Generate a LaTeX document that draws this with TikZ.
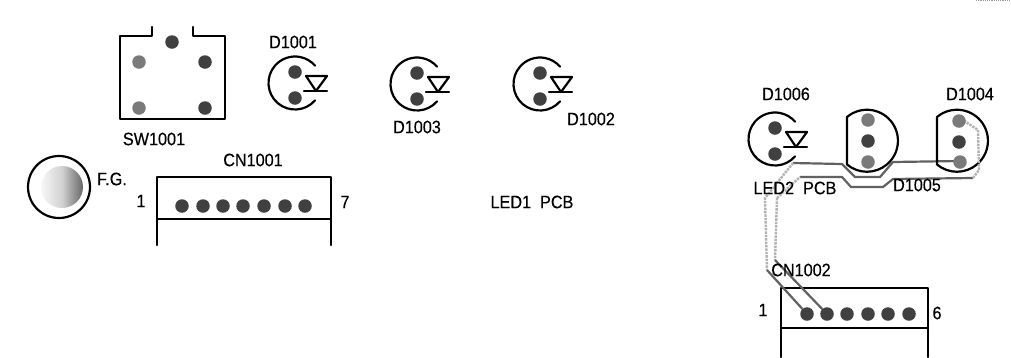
\documentclass[tikz,border=0pt]{standalone}
\usepackage{fontspec}
\setmainfont[FakeStretch=0.9,FakeBold=0.35]{Liberation Sans}
\tikzset{
  x=1pt,y=-1pt,
  outline/.style={draw=black,line width=2.2pt,line join=round,line cap=round},
  pad/.style={circle,inner sep=0pt,minimum size=13.5pt,fill=black!75},
  lightpad/.style={circle,inner sep=0pt,minimum size=13.5pt,fill=black!52},
  lbl/.style={inner sep=0pt,font=\fontsize{18}{18}\selectfont,text=black},
  darktrace/.style={draw=black!62,line width=2.2pt,line join=round},
  paletrace/.style={draw=black!30,line width=2.4pt,line join=round,densely dotted},
}
\newcommand{\ledsym}[3]{%
  \coordinate (#1) at (#2,#3);
  \draw[outline] ([shift={(41:26.5)}]#1) arc[start angle=41,end angle=319,radius=26.5];
  \node[pad] (#1a) at (#2,#3-11) {};
  \node[pad] (#1b) at (#2,#3+15) {};
  \draw[outline] (#2+11,#3-7) -- (#2+32,#3-7) -- (#2+21,#3+8) -- cycle;
  \draw[outline] (#2+9,#3+8) -- (#2+32,#3+8);
}
\begin{document}
\begin{tikzpicture}
\useasboundingbox (0,0) rectangle (1011,357);
\fill[white] (0,0) rectangle (1011,357);
% top-right scan remnant
\draw[black!40,line width=1.2pt,densely dotted] (976,0.6) -- (1011,0.6);

% traces (LED2 PCB)
\coordinate (ta) at (793,163);
\coordinate (tb) at (842,164);
\coordinate (tc) at (855,177);
\coordinate (td) at (880,177);
\coordinate (te) at (893,162);
\coordinate (tf) at (960,161);
\coordinate (ua) at (777,198);
\coordinate (ub) at (800,177);
\coordinate (uc) at (842,177);
\coordinate (ud) at (851,187);
\coordinate (ue) at (883,187);
\coordinate (uf) at (893,179);
\coordinate (ug) at (973,178);
\coordinate (uh) at (979,170);
\coordinate (ui) at (978,130);
\coordinate (uj) at (960,118);
\coordinate (va) at (767,270);
\coordinate (vb) at (775,260);
\coordinate (vc) at (765,198);
\draw[darktrace] (ta) -- (tb) -- (tc) -- (td) -- (te) -- (tf);
\draw[darktrace] (ub) -- (uc) -- (ud) -- (ue) -- (uf) -- (ug);
\draw[paletrace] (ua) -- (ub);
\draw[paletrace] (ta) -- (vc) -- (va);
\draw[paletrace] (ua) -- (vb);

% SW1001
\draw[outline] (152,27) -- (152,36) -- (120,36) -- (120,119) -- (225,119) -- (225,36) -- (193,36) -- (193,27);
\node[pad] (s1) at (172,42) {};
\node[lightpad] (s2) at (139,62) {};
\node[pad] (s3) at (205,62) {};
\node[lightpad] (s4) at (139,108) {};
\node[pad] (s5) at (205,108) {};
\node[lbl] (swl) at (154,139) {SW1001};

% LEDs
\ledsym{da}{295}{83}
\ledsym{db}{417}{84}
\ledsym{dc}{540}{84}
\ledsym{dd}{775}{139}
\node[lbl] (dal) at (293,42) {D1001};
\node[lbl] (dbl) at (417,127) {D1003};
\node[lbl] (dcl) at (591,119) {D1002};
\node[lbl] (ddl) at (786,94) {D1006};

% D1005
\draw[outline] (847,117) arc[start angle=-130,end angle=130,radius=31] -- cycle;
\node[lightpad] (e1) at (868,120) {};
\node[pad] (e2) at (868,141) {};
\node[lightpad] (e3) at (868,162) {};
% D1004
\draw[outline] (937,117) arc[start angle=-130,end angle=130,radius=31] -- cycle;
\draw[paletrace] (ug) -- (uh) -- (ui) -- (uj);
\node[lightpad] (f1) at (959,121) {};
\node[pad] (f2) at (959,142) {};
\node[lightpad] (f3) at (960,162) {};
\node[lbl] (fl) at (970,94) {D1004};
\node[lbl] (el) at (917,185) {D1005};
\node[lbl] (ledb) at (795,188) {LED2\hspace{9pt}PCB};

% F.G.
\draw[outline] (59,187) circle[radius=31];
\shade[left color=black!3,right color=black!60,middle color=black!18] (62,187) circle[radius=21];
\node[lbl] (fgl) at (112,179) {F.G.};

% CN1001
\draw[outline] (157,245) -- (157,177) -- (331,177) -- (331,245);
\draw[outline] (157,219) -- (331,219);
\foreach \n/\px in {1/182,2/203,3/223,4/243,5/264,6/285,7/305}
  \node[pad] (p\n) at (\px,206) {};
\node[lbl] (cnal) at (253,160) {CN1001};
\node[lbl] (cna1) at (141,201) {1};
\node[lbl] (cna7) at (345,202) {7};
\node[lbl] (leda) at (532,202) {LED1\hspace{9pt}PCB};

% CN1002
\draw[outline] (781,357) -- (781,288) -- (928,288) -- (928,357);
\draw[outline] (781,328) -- (928,328);
\foreach \n/\px in {1/807,2/827,3/847,4/868,5/888,6/909}
  \node[pad] (q\n) at (\px,314) {};
\draw[darktrace] (va) -- (q1);
\draw[darktrace] (vb) -- (q2);
\node[lbl] (cnbl) at (801,270) {CN1002};
\node[lbl] (cnb1) at (763,310) {1};
\node[lbl] (cnb6) at (937,313) {6};
\end{tikzpicture}
\end{document}
